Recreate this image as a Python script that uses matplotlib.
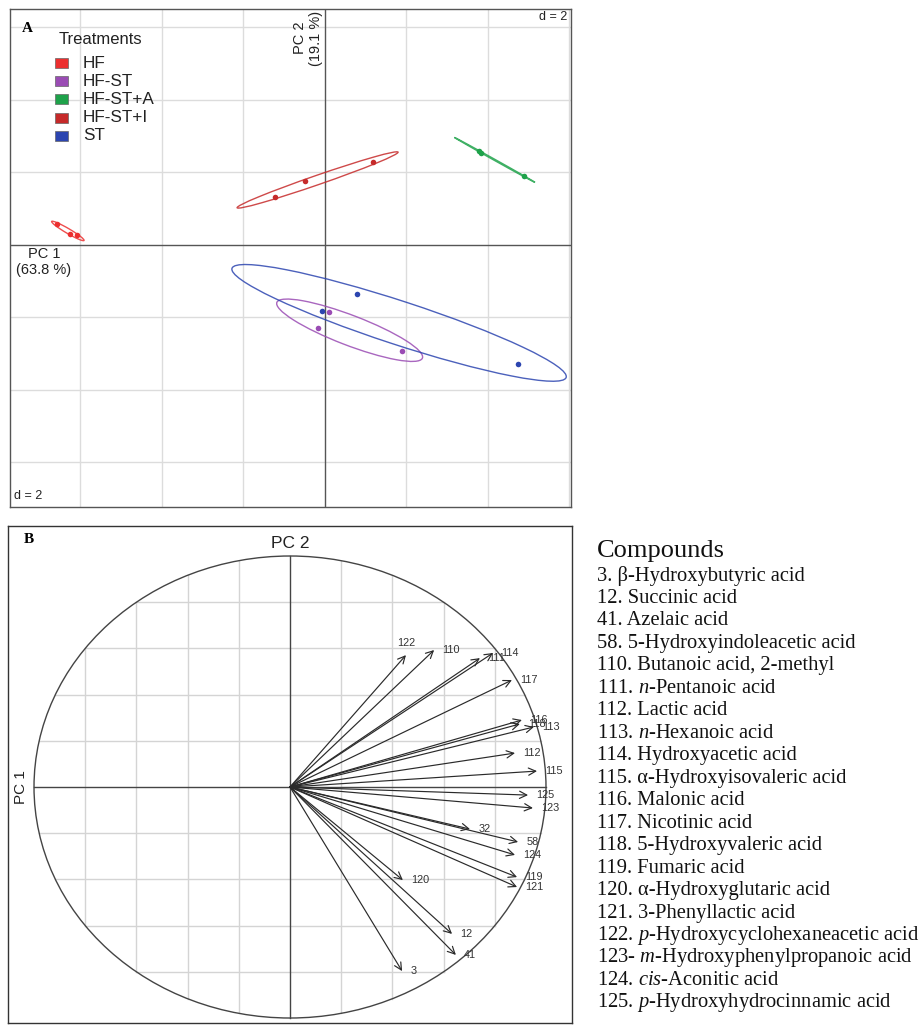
import numpy as np
import matplotlib.pyplot as plt
from matplotlib.patches import Ellipse, Rectangle

plt.rcParams['font.family'] = ['Liberation Sans', 'DejaVu Sans']
plt.rcParams['mathtext.fontset'] = 'custom'
plt.rcParams['mathtext.rm'] = 'Liberation Serif'
plt.rcParams['mathtext.it'] = 'Liberation Serif:italic'

# ---- panel A: sample scores on PC1 / PC2, grouped by treatment ----
treatments = ['HF', 'HF-ST', 'HF-ST+A', 'HF-ST+I', 'ST']
colors = ['#ec2f2f', '#9a4cb4', '#1ea24a', '#c62a2a', '#2c45b0']
hf_x = [-6.58, -6.26, -6.09]
hf_y = [0.58, 0.30, 0.28]
hfst_x = [0.10, -0.17, 1.89]
hfst_y = [-1.85, -2.29, -2.92]
hfsta_x = [3.78, 3.84, 4.88]
hfsta_y = [2.60, 2.54, 1.90]
hfsti_x = [-1.23, -0.49, 1.18]
hfsti_y = [1.32, 1.77, 2.29]
st_x = [0.79, -0.07, 4.74]
st_y = [-1.35, -1.82, -3.28]
pc1_label = 'PC 1\n(63.8 %)'
pc2_label = 'PC 2\n(19.1 %)'

# ---- panel B: correlation circle of the compounds ----
arrow_ids = ['122', '110', '111', '114', '117', '116', '118', '113', '112', '115',
             '125', '123', '32', '58', '124', '119', '121', '120', '12', '41', '3']
load_pc1 = [0.453, 0.563, 0.742, 0.793, 0.867, 0.906, 0.898, 0.953, 0.879, 0.965,
            0.930, 0.949, 0.703, 0.891, 0.879, 0.887, 0.887, 0.441, 0.633, 0.648, 0.438]
load_pc2 = [0.571, 0.593, 0.558, 0.580, 0.463, 0.290, 0.273, 0.260, 0.147, 0.069,
            -0.035, -0.091, -0.182, -0.238, -0.294, -0.390, -0.433, -0.403, -0.636, -0.727, -0.797]

compound_ids = ['3.', '12.', '41.', '58.', '110.', '111.', '112.', '113.', '114.', '115.',
                '116.', '117.', '118.', '119.', '120.', '121.', '122.', '123-', '124.', '125.']
compound_names = ['β-Hydroxybutyric acid', 'Succinic acid', 'Azelaic acid',
                  '5-Hydroxyindoleacetic acid', 'Butanoic acid, 2-methyl',
                  r'$\mathit{n}$-Pentanoic acid', 'Lactic acid', r'$\mathit{n}$-Hexanoic acid',
                  'Hydroxyacetic acid', 'α-Hydroxyisovaleric acid', 'Malonic acid',
                  'Nicotinic acid', '5-Hydroxyvaleric acid', 'Fumaric acid',
                  'α-Hydroxyglutaric acid', '3-Phenyllactic acid',
                  r'$\mathit{p}$-Hydroxycyclohexaneacetic acid',
                  r'$\mathit{m}$-Hydroxyphenylpropanoic acid', r'$\mathit{cis}$-Aconitic acid',
                  r'$\mathit{p}$-Hydroxyhydrocinnamic acid']

W, H = 920, 1025
fig = plt.figure(figsize=(W / 100, H / 100), dpi=100)


def class_ellipse(ax, x, y, col, k=1.6):
    # dispersion ellipse of one group (mean +/- k sd along the principal axes)
    xy = np.column_stack([x, y])
    m = xy.mean(axis=0)
    vals, vecs = np.linalg.eigh(np.cov(xy.T))
    ang = np.degrees(np.arctan2(vecs[1, 1], vecs[0, 1]))
    ax.add_patch(Ellipse(m, 2 * k * np.sqrt(vals[1]), 2 * k * np.sqrt(max(vals[0], 1e-6)),
                         angle=ang, fill=False, ec=col, lw=1.0, alpha=0.85, zorder=3))


# ================= panel A =================
axA = fig.add_axes([10 / W, 1 - 507 / H, 561 / W, 498 / H])
axA.set_xlim(-7.73, 6.04)
axA.set_ylim(-7.23, 6.51)
for v in range(-6, 7, 2):
    if v != 0:
        axA.axvline(v, color='#dcdcdc', lw=1, zorder=0)
        axA.axhline(v, color='#dcdcdc', lw=1, zorder=0)
axA.axvline(0, color='#555555', lw=1, zorder=1)
axA.axhline(0, color='#555555', lw=1, zorder=1)

groups = [(hf_x, hf_y), (hfst_x, hfst_y), (hfsta_x, hfsta_y), (hfsti_x, hfsti_y), (st_x, st_y)]
for (gx, gy), col in zip(groups, colors):
    class_ellipse(axA, gx, gy, col)
    axA.scatter(gx, gy, s=16, color=col, zorder=4, linewidths=0)

axA.set_xticks([])
axA.set_yticks([])
for sp in axA.spines.values():
    sp.set_color('#555555')
    sp.set_linewidth(1)


def pa(px, py):
    # pixel position -> axes fraction for panel A
    return (px - 10) / 561, (507 - py) / 498


axA.text(*pa(22, 28), 'A', transform=axA.transAxes, family='Liberation Serif',
         fontweight='bold', fontsize=11, ha='left', va='center')
axA.text(*pa(59, 40), 'Treatments', transform=axA.transAxes, fontsize=12,
         ha='left', va='center', color='#222222')
for i, (t, col) in enumerate(zip(treatments, colors)):
    yy = 63 + i * 18.2
    x0, y0 = pa(55, yy + 5)
    axA.add_patch(Rectangle((x0, y0), 13 / 561, 10 / 498, transform=axA.transAxes,
                            fc=col, ec='#666666', lw=0.5))
    axA.text(*pa(83, yy), t, transform=axA.transAxes, fontsize=12.3,
             ha='left', va='center', color='#222222')

axA.text(*pa(323, 38), pc2_label, transform=axA.transAxes, rotation=90, fontsize=10.5,
         ha='right', va='center', multialignment='center', color='#222222')
axA.text(*pa(44, 247), pc1_label, transform=axA.transAxes, fontsize=10.5,
         ha='center', va='top', multialignment='center', color='#222222')
axA.text(*pa(567, 17), 'd = 2', transform=axA.transAxes, fontsize=9,
         ha='right', va='center', color='#222222')
axA.text(*pa(14, 496), 'd = 2', transform=axA.transAxes, fontsize=9,
         ha='left', va='center', color='#222222')

# ================= panel B =================
axB = fig.add_axes([8 / W, 1 - 1023 / H, 564 / W, 497 / H])
axB.set_xlim(-1.1016, 1.1016)
axB.set_ylim(-1.0216, 1.1299)
for v in [-0.8, -0.6, -0.4, -0.2, 0.2, 0.4, 0.6, 0.8]:
    h = np.sqrt(1 - v ** 2)
    axB.plot([v, v], [-h, h], color='#d4d4d4', lw=1, zorder=0)
    axB.plot([-h, h], [v, v], color='#d4d4d4', lw=1, zorder=0)
axB.plot([-1, 1], [0, 0], color='#444444', lw=1, zorder=1)
axB.plot([0, 0], [-1, 1], color='#444444', lw=1, zorder=1)
axB.add_patch(Ellipse((0, 0), 2, 2, fill=False, ec='#444444', lw=1, zorder=2))

for lab, x, y in zip(arrow_ids, load_pc1, load_pc2):
    axB.annotate('', xy=(x, y), xytext=(0, 0),
                 arrowprops=dict(arrowstyle='->', color='#2a2a2a', lw=0.85,
                                 shrinkA=0, shrinkB=0, mutation_scale=13))
    if lab == '122':
        axB.annotate(lab, xy=(x, y), xytext=(0, 9), textcoords='offset points',
                     ha='center', va='center', fontsize=7.8, color='#333333')
    else:
        axB.annotate(lab, xy=(x, y), xytext=(6, 0), textcoords='offset points',
                     ha='left', va='center', fontsize=7.8, color='#333333')

axB.text(0, 1.055, 'PC 2', fontsize=12.5, ha='center', va='center', color='#222222')
axB.text(-1.05, 0, 'PC 1', fontsize=11, rotation=90, ha='center', va='center', color='#222222')
axB.text(-1.04, 1.07, 'B', family='Liberation Serif', fontweight='bold', fontsize=11,
         ha='left', va='center')
axB.set_xticks([])
axB.set_yticks([])
for sp in axB.spines.values():
    sp.set_color('#333333')
    sp.set_linewidth(1)

# ---- compound list ----
fig.text(597 / W, 1 - 551 / H, 'Compounds', family='Liberation Serif', fontsize=19,
         ha='left', va='center', color='#111111')
for i, (cid, name) in enumerate(zip(compound_ids, compound_names)):
    fig.text(597 / W, 1 - (576 + i * 22.47) / H, cid + ' ' + name, family='Liberation Serif',
             fontsize=14.8, ha='left', va='center', color='#111111')

fig.savefig('out.png', dpi=100)
